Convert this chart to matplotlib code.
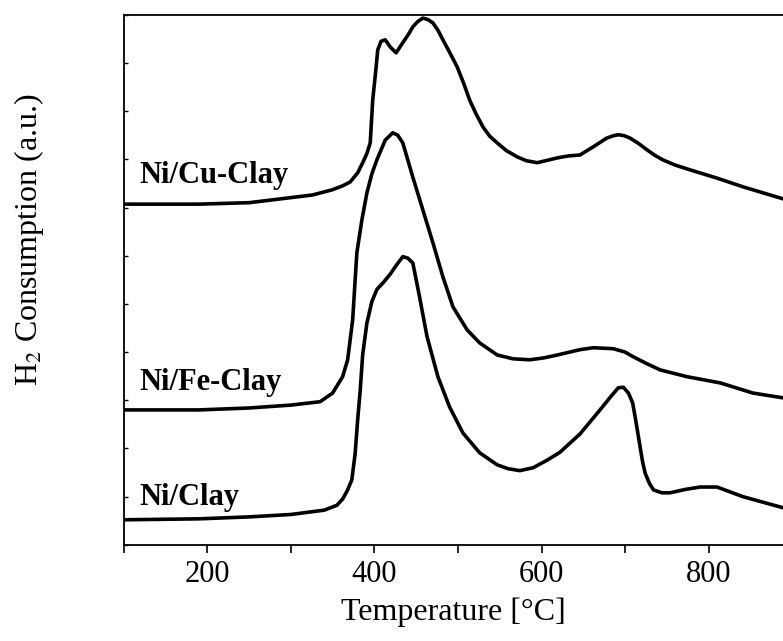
import matplotlib
matplotlib.use('Agg')
import matplotlib.pyplot as plt
from matplotlib.ticker import MultipleLocator, NullFormatter

plt.rcParams['font.family'] = ['Liberation Serif', 'DejaVu Serif']
plt.rcParams['mathtext.fontset'] = 'stix'

# temperature (degC) and H2 consumption (a.u.)
t_clay = [100, 190, 250, 300, 340, 355, 362, 368, 373, 377, 380, 383, 386, 391, 397,
          403, 411, 419, 427, 434, 440, 446, 454, 463, 476, 490, 506, 526, 547, 560,
          574, 590, 607, 622, 646, 670, 684, 692, 698, 704, 709, 712, 715, 718, 721,
          724, 729, 734, 744, 754, 772, 790, 810, 841, 889]
y_clay = [0.52, 0.54, 0.58, 0.63, 0.72, 0.82, 0.95, 1.14, 1.35, 1.9, 2.6, 3.2, 3.95, 4.6, 5.05,
          5.3, 5.45, 5.62, 5.82, 5.98, 5.95, 5.85, 5.15, 4.32, 3.49, 2.86, 2.32, 1.91, 1.66, 1.58,
          1.54, 1.6, 1.76, 1.92, 2.3, 2.8, 3.1, 3.26, 3.27, 3.15, 2.95, 2.66, 2.35, 2.03, 1.72,
          1.49, 1.28, 1.14, 1.08, 1.08, 1.15, 1.2, 1.2, 1.0, 0.77]

t_fe = [100, 190, 250, 300, 335, 350, 362, 368, 374, 379, 385, 391, 397, 403, 413,
        422, 428, 434, 446, 458, 470, 482, 494, 511, 526, 547, 566, 586, 603, 619, 646,
        662, 686, 700, 710, 726, 742, 774, 814, 853, 889]
y_fe = [2.80, 2.80, 2.84, 2.90, 2.97, 3.15, 3.49, 3.84, 4.67, 6.06, 6.74, 7.30, 7.7, 7.99, 8.40,
        8.55, 8.5, 8.34, 7.63, 6.95, 6.27, 5.56, 4.94, 4.46, 4.19, 3.94, 3.86, 3.84, 3.88, 3.94, 4.05,
        4.09, 4.07, 4.0, 3.90, 3.76, 3.63, 3.49, 3.36, 3.15, 3.05]

t_cu = [100, 190, 250, 326, 350, 362, 371, 380, 386, 391, 395, 398, 402, 404, 408, 413,
        419, 426, 434, 441, 446, 452, 458, 464, 470, 476, 482, 490, 499, 507, 514, 522, 530,
        538, 547, 558, 571, 582, 595, 607, 619, 632, 646, 662, 678, 686, 692, 699, 706, 716,
        726, 735, 745, 760, 778, 810, 841, 889]
y_cu = [7.07, 7.07, 7.10, 7.26, 7.37, 7.45, 7.53, 7.72, 7.93, 8.12, 8.34, 9.23, 9.9, 10.27, 10.45, 10.48,
        10.33, 10.21, 10.42, 10.6, 10.75, 10.86, 10.93, 10.9, 10.83, 10.68, 10.48, 10.22, 9.92, 9.57, 9.23, 8.93, 8.67,
        8.48, 8.34, 8.18, 8.05, 7.97, 7.93, 7.98, 8.03, 8.07, 8.09, 8.26, 8.44, 8.49, 8.51, 8.49, 8.44, 8.33,
        8.20, 8.09, 7.99, 7.88, 7.78, 7.61, 7.43, 7.18]

labels = ['Ni/Clay', 'Ni/Fe-Clay', 'Ni/Cu-Clay']
label_y = [0.83, 3.22, 7.51]

fig = plt.figure(figsize=(7.83, 6.41), dpi=100)
ax = fig.add_axes([0.158, 0.150, 0.842, 0.827])

for t, y in [(t_clay, y_clay), (t_fe, y_fe), (t_cu, y_cu)]:
    ax.plot(t, y, color='black', lw=2.6, solid_joinstyle='round', solid_capstyle='round')

for lab, ly in zip(labels, label_y):
    ax.text(119, ly, lab, fontsize=22, fontweight='bold', ha='left', va='baseline')

ax.set_xlim(100, 889)
ax.set_ylim(0, 11)
ax.spines['right'].set_visible(False)
for s in ['left', 'bottom', 'top']:
    ax.spines[s].set_linewidth(1.3)

ax.xaxis.set_major_locator(MultipleLocator(200))
ax.xaxis.set_minor_locator(MultipleLocator(100))
ax.tick_params(axis='x', which='both', direction='out', length=6, width=1.2,
               labelsize=22, top=False, pad=5)
ax.yaxis.set_major_locator(MultipleLocator(1))
ax.yaxis.set_major_formatter(NullFormatter())
ax.tick_params(axis='y', which='both', direction='in', length=3, width=1, right=False)

ax.set_xlabel('Temperature [°C]', fontsize=23, labelpad=6)
ax.set_ylabel(r'H$_2$ Consumption (a.u.)', fontsize=23)
ax.yaxis.set_label_coords(-0.118, 0.575)

fig.savefig('out.png', dpi=100)
